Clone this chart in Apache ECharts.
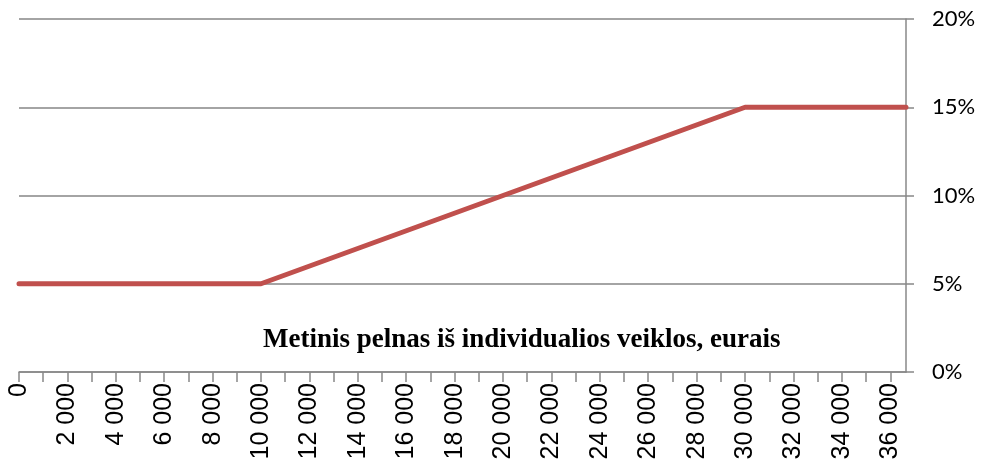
<!DOCTYPE html>
<html>
<head>
<meta charset="utf-8">
<script src="https://cdn.jsdelivr.net/npm/echarts@6/dist/echarts.min.js"></script>
<style>
  html, body { margin: 0; padding: 0; background: #fff; }
  #chart { width: 982px; height: 465px; }
</style>
</head>
<body>
<div id="chart"></div>
<script>
// annual profit (eur) and tax rate (%) at each breakpoint
const profit = [0, 10000, 30000, 36650]
const rate = [5, 5, 15, 15]
const yTicks = [0, 5, 10, 15, 20]
const xTitle = 'Metinis pelnas iš individualios veiklos, eurais'

const chart = echarts.init(document.getElementById('chart'))

function fmtThousands(v) {
  return String(v).replace(/\B(?=(\d{3})+(?!\d))/g, ' ')
}

chart.setOption({
  animation: false,
  grid: { left: 19, right: 76, top: 19, bottom: 93, outerBoundsMode: 'none' },
  xAxis: {
    type: 'value',
    min: 0,
    max: 36650,
    interval: 1000,
    axisLine: { show: true, onZero: false, lineStyle: { color: '#888', width: 1.5 } },
    axisTick: { show: true, length: 10, lineStyle: { color: '#888', width: 1.5 } },
    splitLine: { show: false },
    axisLabel: {
      rotate: 90,
      margin: 11,
      showMaxLabel: false,
      color: '#000',
      fontFamily: 'Liberation Sans',
      fontSize: 25,
      formatter: v => (v % 2000 === 0 ? fmtThousands(v) : ''),
    },
  },
  yAxis: {
    type: 'value',
    position: 'right',
    min: yTicks[0],
    max: yTicks[yTicks.length - 1],
    interval: 5,
    axisLine: { show: true, onZero: false, lineStyle: { color: '#888', width: 1.5 } },
    axisTick: { show: true, inside: false, length: 8, lineStyle: { color: '#888', width: 1.5 } },
    splitLine: { lineStyle: { color: '#868686', width: 1.5 } },
    axisLabel: {
      margin: 26,
      color: '#000',
      fontFamily: 'Lato',
      fontSize: 22,
      formatter: v => v + '%',
    },
  },
  graphic: [
    {
      type: 'text',
      left: 263,
      top: 327,
      style: {
        text: xTitle,
        fill: '#000',
        font: 'bold 27px "Liberation Serif"',
      },
    },
  ],
  series: [
    {
      type: 'line',
      data: profit.map((p, i) => [p, rate[i]]),
      symbol: 'none',
      lineStyle: { color: '#C0504D', width: 5, cap: 'round', join: 'round' },
    },
  ],
})
</script>
</body>
</html>
